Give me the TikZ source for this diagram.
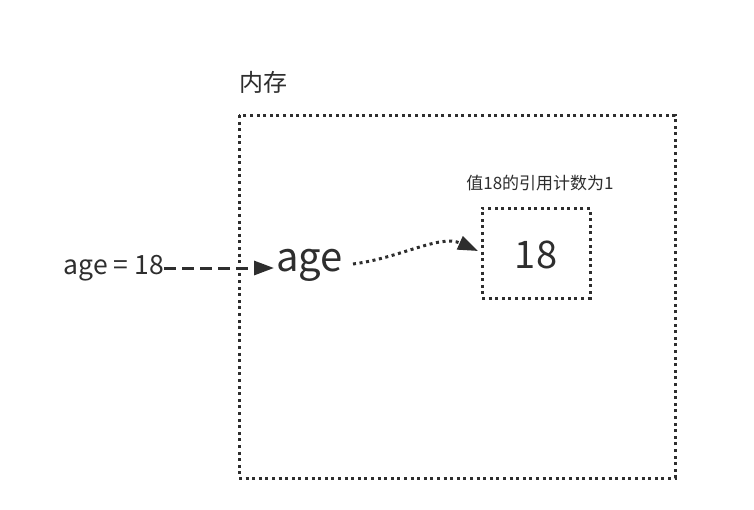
\documentclass[tikz,border=0pt]{standalone}
\usepackage{fontspec}
\setmainfont{Noto Sans CJK SC}
\usetikzlibrary{arrows.meta}
\definecolor{ink}{HTML}{2E2E2E}
\tikzset{
  dotbox/.style={draw=ink, line width=3pt, dash pattern=on 3pt off 3.6pt},
  lbl/.style={inner sep=0pt, text=ink},
  tri/.style={-{Triangle[length=20pt,width=14pt]}},
}
\begin{document}
\begin{tikzpicture}[x=1pt,y=-1pt]
\useasboundingbox (0,0) rectangle (754,509);
\fill[white] (0,0) rectangle (754,509);
% memory box
\draw[dotbox] (239,115) rectangle (675,478);
\node[lbl, anchor=west, font=\fontsize{24}{26}\selectfont] (mem) at (239,82) {内存};
% value box
\node[dotbox, minimum width=108pt, minimum height=90pt, inner sep=0pt] (val) at (536,253) {};
\node[lbl, font=\fontsize{38}{40}\selectfont] (v18) at (536,255) {18};
\node[lbl, font=\fontsize{17}{19}\selectfont] (cap) at (540,183) {值18的引用计数为1};
% age
\node[lbl, anchor=east, font=\fontsize{26.5}{28}\selectfont] (src) at (164,268) {age = 18};
\node[lbl, anchor=west, font=\fontsize{40}{42}\selectfont] (age) at (276,265) {age};
\draw[ink, line width=3pt, dash pattern=on 12pt off 6pt, tri] (src.east) -- ++(110,0) coordinate (tip1);
\coordinate (s2) at (353,264);
\coordinate (e2) at (478,251);
\draw[ink, line width=3pt, dash pattern=on 3pt off 3.6pt, tri] (s2) .. controls (400,258) and (440,234) .. (e2);
\end{tikzpicture}
\end{document}
